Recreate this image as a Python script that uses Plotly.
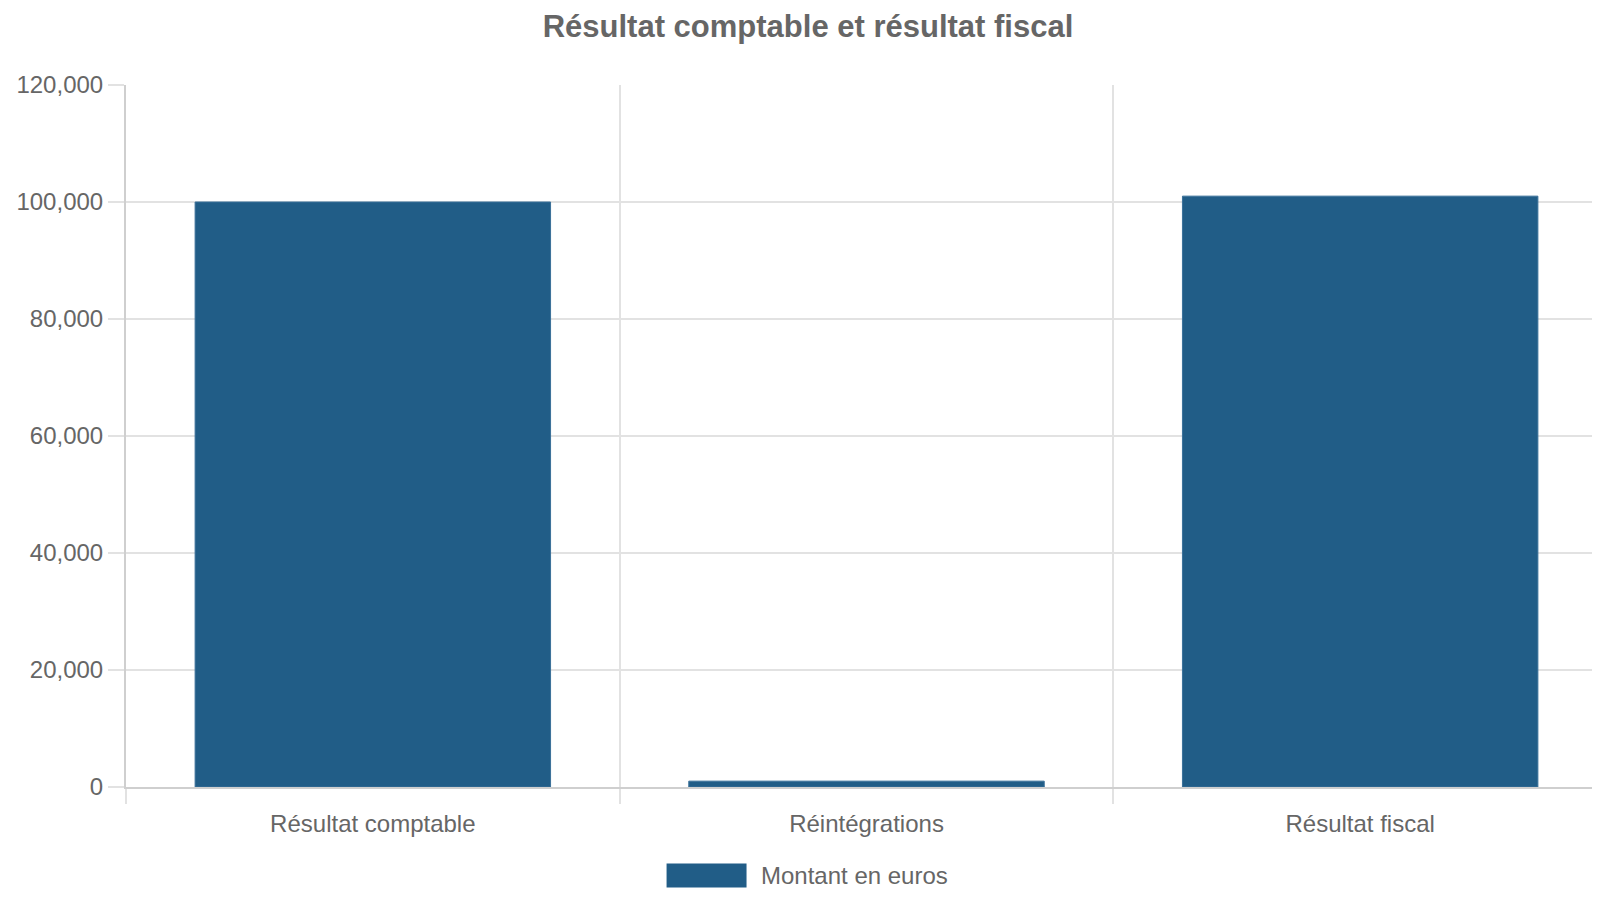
import plotly.graph_objects as go

# data
categories = ["Résultat comptable", "Réintégrations", "Résultat fiscal"]
montants = [100000, 1000, 101000]
serie_nom = "Montant en euros"

bar_color = "#215d87"
grey_text = "#666666"
grid_color = "#e2e2e2"
axis_color = "#cfcfcf"
font_family = "Liberation Sans, Arial, sans-serif"

fig = go.Figure()
fig.add_trace(go.Bar(
    x=categories,
    y=montants,
    name=serie_nom,
    marker=dict(color=bar_color, line=dict(color="#3a7099", width=1)),
    showlegend=False,
))

fig.update_layout(
    width=1600,
    height=900,
    margin=dict(l=118, r=1, t=77, b=121),
    paper_bgcolor="white",
    plot_bgcolor="white",
    bargap=0.28,
    font=dict(family=font_family, size=24, color=grey_text),
    title=dict(
        text="<b>Résultat comptable et résultat fiscal</b>",
        font=dict(family=font_family, size=31, color=grey_text),
        x=0.5, xanchor="center", xref="container",
        y=1 - 18 / 900, yanchor="middle",
    ),
)

fig.update_xaxes(
    type="category",
    tickson="boundaries",
    ticks="outside",
    ticklen=15,
    tickwidth=2,
    tickcolor=grid_color,
    ticklabelstandoff=14,
    showgrid=True,
    gridcolor=grid_color,
    gridwidth=2,
    showline=True,
    linecolor=axis_color,
    linewidth=2,
    tickfont=dict(size=24, color=grey_text),
)

fig.update_yaxes(
    range=[0, 120000],
    dtick=20000,
    tickformat=",",
    ticks="outside",
    ticklen=16,
    tickwidth=2,
    tickcolor=grid_color,
    showgrid=True,
    gridcolor=grid_color,
    gridwidth=2,
    zeroline=False,
    showline=True,
    linecolor=axis_color,
    linewidth=2,
    tickfont=dict(size=24, color=grey_text),
)

# legend drawn like a chart.js box legend
fig.add_shape(
    type="rect", xref="paper", yref="paper",
    x0=0.365, x1=0.419, y0=-0.109, y1=-0.143,
    fillcolor=bar_color, line=dict(width=0),
)
fig.add_annotation(
    text=serie_nom, xref="paper", yref="paper",
    x=0.4275, y=-0.126, xanchor="left", yanchor="middle",
    showarrow=False, font=dict(size=24, color=grey_text),
)

fig.write_html("out.html")
